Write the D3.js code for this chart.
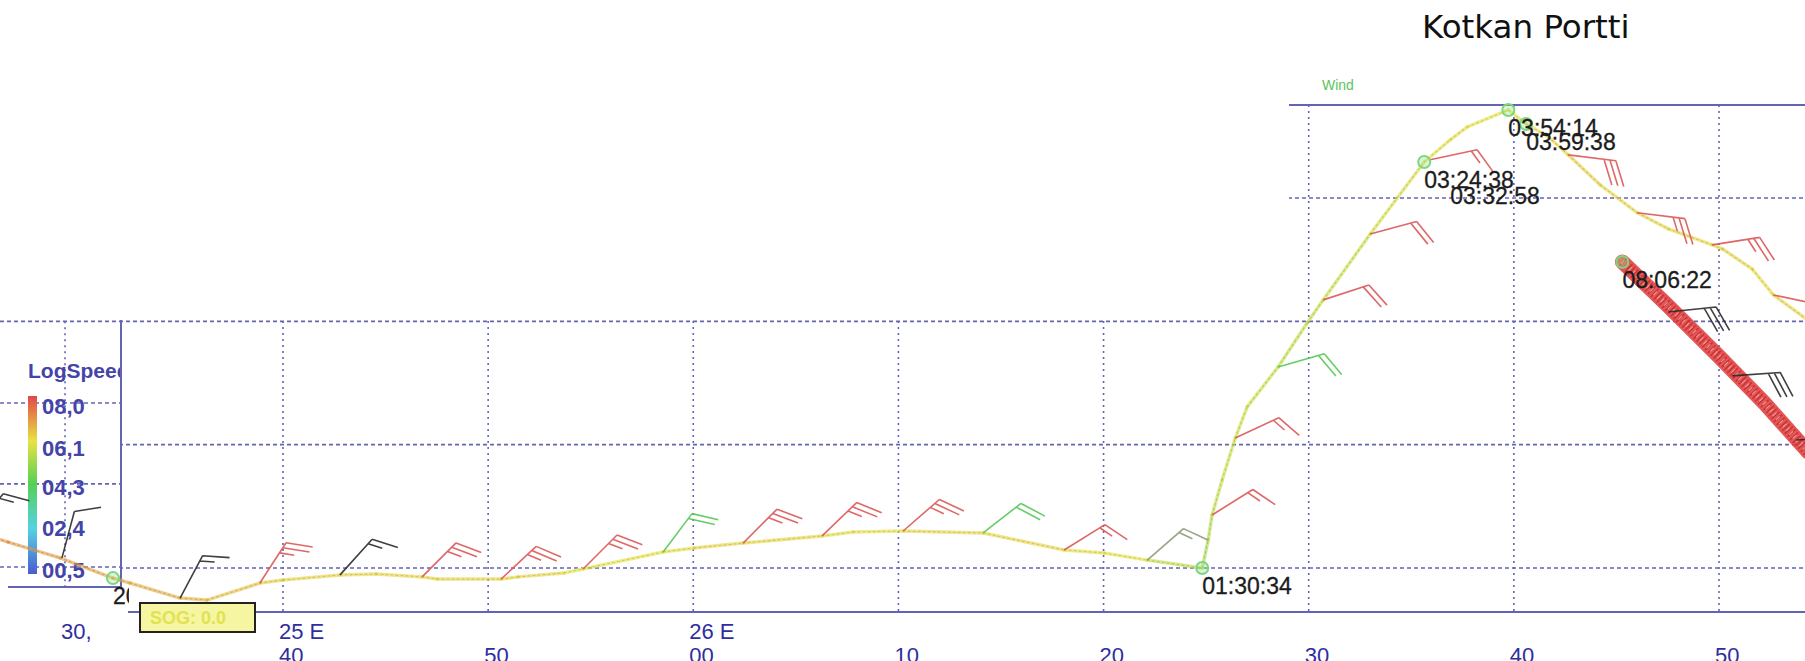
<!DOCTYPE html>
<html>
<head>
<meta charset="utf-8">
<script src="https://cdn.jsdelivr.net/npm/d3@7"></script>
<style>
  body { margin: 0; background: #fff; }
  svg { display: block; }
</style>
</head>
<body>
<script>
const W = 1805, H = 661;

// longitude grid, minutes east (40 = 25°40', 60 = 26°00')
const lonTicks = [30, 40, 50, 60, 70, 80, 90, 100, 110];
const lonLabelTop = ["30,", "25 E", "", "26 E", "", "", "", "", ""];
const lonLabelBottom = ["", "40", "50", "00", "10", "20", "30", "40", "50"];
// latitude grid, minutes
const latTicks = [20, 25, 30, 35];

// own track: lon/lat minutes and speed over ground (kn)
const trackLon = [25.78, 27.39, 29.77, 32.20, 32.98, 35.28, 36.51, 38.94,
  40.00, 42.78, 44.53, 46.78, 47.51, 50.63, 51.46, 53.70, 54.63, 58.53,
  60.04, 62.43, 66.28, 67.79, 70.23, 74.13, 78.08, 80.03, 82.13, 84.81,
  85.10, 85.29, 85.78, 86.42, 87.00, 88.51, 89.93, 90.71, 93.00, 95.63,
  96.90, 97.73, 99.73, 100.60, 101.68, 102.65, 104.21, 106.02, 107.53, 109.67,
  110.16, 111.62, 112.65, 114.45];
const trackLat = [21.50, 21.05, 20.41, 19.59, 19.39, 18.78, 18.70, 19.39,
  19.51, 19.72, 19.76, 19.64, 19.55, 19.55, 19.64, 19.80, 19.96, 20.65,
  20.81, 21.01, 21.30, 21.46, 21.50, 21.42, 20.73, 20.61, 20.32, 20.00,
  21.14, 22.15, 23.57, 25.27, 26.53, 28.15, 29.94, 30.87, 33.54, 36.46,
  37.36, 37.88, 38.57, 38.00, 37.48, 36.75, 35.53, 34.40, 33.75, 33.10,
  32.94, 32.12, 31.07, 29.98];
const trackSog = [7.0, 7.0, 6.9, 6.8, 6.8, 6.7, 6.6, 6.4,
  6.3, 6.2, 6.3, 6.2, 6.3, 6.2, 6.3, 6.2, 6.0, 6.1,
  6.2, 6.3, 6.2, 6.1, 6.2, 6.3, 6.2, 6.1, 6.0, 5.2,
  5.4, 5.6, 5.7, 5.8, 5.8, 5.7, 5.6, 5.7, 5.8, 6.0,
  6.1, 6.2, 6.0, 6.1, 6.2, 6.3, 6.3, 6.2, 6.3, 6.2,
  6.3, 6.2, 6.2, 6.3];

// return leg from 08:06:22
const returnLon = [105.29, 107.53, 109.97, 112.21, 114.35];
const returnLat = [32.41, 30.62, 28.60, 26.69, 24.70];

// wind observations: position, direction wind blows from (deg), speed (kn), source
const windLon = [25.78, 29.86, 35.28, 38.94, 42.78, 46.78, 50.63, 54.63, 58.53, 62.43,
  66.28, 70.23, 74.13, 78.08, 82.13, 85.29, 86.42, 88.51, 90.71, 93.00,
  95.92, 102.65, 106.02, 109.67, 112.65, 107.53, 110.65, 113.77];
const windLat = [21.50, 20.41, 18.78, 19.39, 19.72, 19.64, 19.55, 19.96, 20.65, 21.01,
  21.30, 21.50, 21.42, 20.73, 20.32, 22.15, 25.27, 28.15, 30.87, 33.54,
  36.55, 36.75, 34.40, 33.10, 31.07, 30.38, 27.79, 25.19];
const windDir = [39, 15, 28, 33, 42, 45, 47, 45, 37, 45,
  46, 49, 52, 58, 49, 58, 65, 74, 72, 75,
  78, 97, 97, 81, 102, 84, 86, 87];
const windKn = [15, 10, 15, 25, 15, 25, 25, 25, 20, 25,
  25, 25, 20, 15, 15, 15, 15, 20, 20, 20,
  15, 30, 25, 25, 25, 30, 30, 30];
const windSrc = [2, 2, 2, 0, 2, 0, 0, 0, 1, 0,
  0, 0, 1, 0, 3, 0, 0, 1, 0, 0,
  0, 0, 0, 0, 0, 2, 2, 2];

// time stamps on the track
const stampTime = ["20", "01:30:34", "03:24:38", "03:32:58", "03:54:14", "03:59:38", "08:06:22"];
const stampLon = [32.20, 84.81, 95.63, 96.90, 99.73, 100.60, 105.29];
const stampLat = [19.59, 20.00, 36.46, 37.36, 38.57, 38.00, 32.41];
const stampShift = {"03:32:58": 38};

// LogSpeed legend
const legendTicks = [0.5, 2.4, 4.3, 6.1, 8.0];
const legendColors = ["#4b5bd2", "#55d2e2", "#55d055", "#e8e244", "#e04848"];

const GRID = "#6464b4";
const AXIS_TXT = "#2e2ea0";
const STAFF = 48, FEATHER = 27, FEATHER_GAP = 6, FEATHER_ROT = 66;
const srcColor = ["#dc5656", "#55c655", "#2a2a2a", "#8d9a74"];

const x = d3.scaleLinear().domain([30, 40, 110]).range([65, 283, 1719]);
const y = d3.scaleLinear().domain([20, 35]).range([568, 198]);
const speedColor = d3.scaleLinear().domain(legendTicks).range(legendColors);

const svg = d3.select("body").append("svg")
  .attr("width", W).attr("height", H)
  .style("font-family", "'Liberation Sans', Arial, sans-serif");
const defs = svg.append("defs");

//grid, L-shaped area
const clip = defs.append("clipPath").attr("id", "grid-clip");
clip.append("rect").attr("x", 121).attr("y", 318).attr("width", W - 121).attr("height", 296);
clip.append("rect").attr("x", 1289).attr("y", 105).attr("width", W - 1289).attr("height", 215);

const grid = svg.append("g").attr("clip-path", "url(#grid-clip)");
grid.selectAll(".vgrid").data(lonTicks.slice(1)).join("line")
  .attr("x1", d => x(d)).attr("x2", d => x(d))
  .attr("y1", 105).attr("y2", 612)
  .attr("stroke", GRID).attr("stroke-width", 1.6).attr("stroke-dasharray", "2,4");
grid.selectAll(".hgrid").data(latTicks).join("line")
  .attr("x1", 0).attr("x2", W)
  .attr("y1", d => y(d)).attr("y2", d => y(d))
  .attr("stroke", GRID).attr("stroke-width", 1.6).attr("stroke-dasharray", "4,3");

//wind panel top
svg.append("line").attr("x1", 1289).attr("x2", W).attr("y1", 105).attr("y2", 105)
  .attr("stroke", GRID).attr("stroke-width", 2);
svg.append("text").attr("x", 1322).attr("y", 90).text("Wind")
  .attr("font-size", 14).attr("fill", "#5cc35c");

svg.append("text").attr("x", 1422).attr("y", 38).text("Kotkan Portti")
  .attr("font-family", "'DejaVu Sans', sans-serif").attr("font-size", 32.5).attr("fill", "#111");

//legend box
const ly = d3.scaleLinear().domain([0.5, 8.0]).range([570, 406]);
const lg = svg.append("g");
lg.append("line").attr("x1", 0).attr("x2", 121).attr("y1", y(30)).attr("y2", y(30))
  .attr("stroke", GRID).attr("stroke-width", 1.6).attr("stroke-dasharray", "4,3");
lg.append("line").attr("x1", x(30)).attr("x2", x(30)).attr("y1", y(30)).attr("y2", 587)
  .attr("stroke", GRID).attr("stroke-width", 1.6).attr("stroke-dasharray", "2,4");
lg.selectAll(".ltick").data(legendTicks.filter((d, i) => i % 2 === 0)).join("line")
  .attr("x1", 0).attr("x2", 121)
  .attr("y1", d => ly(d) - 3).attr("y2", d => ly(d) - 3)
  .attr("stroke", GRID).attr("stroke-width", 1.6).attr("stroke-dasharray", "4,3");

const grad = defs.append("linearGradient").attr("id", "speed-grad")
  .attr("x1", 0).attr("x2", 0).attr("y1", 1).attr("y2", 0);
legendTicks.forEach(v => {
  grad.append("stop").attr("offset", (v - 0.5) / 7.5).attr("stop-color", speedColor(v));
});
lg.append("rect").attr("x", 28).attr("y", 396).attr("width", 9).attr("height", 178)
  .attr("fill", "url(#speed-grad)");

lg.selectAll(".llab").data(legendTicks).join("text")
  .attr("x", 42).attr("y", d => ly(d) + 8)
  .text(d => d.toFixed(1).padStart(4, "0").replace(".", ","))
  .attr("font-size", 22).attr("font-weight", "bold").attr("fill", "#4444a8");

defs.append("clipPath").attr("id", "legend-clip")
  .append("rect").attr("x", 0).attr("y", 300).attr("width", 120).attr("height", 300);
lg.append("text").attr("x", 28).attr("y", 378).text("LogSpeed")
  .attr("clip-path", "url(#legend-clip)")
  .attr("font-size", 21).attr("font-weight", "bold").attr("fill", "#4444a8");

lg.append("path").attr("d", "M121,320V587H8")
  .attr("fill", "none").attr("stroke", GRID).attr("stroke-width", 2);

//bottom axis
svg.append("line").attr("x1", 128).attr("x2", W).attr("y1", 612).attr("y2", 612)
  .attr("stroke", GRID).attr("stroke-width", 2);
const ax = svg.append("g").attr("font-size", 22).attr("fill", AXIS_TXT);
ax.selectAll(".l1").data(lonTicks).join("text")
  .attr("x", d => x(d) - 4).attr("y", 639).text((d, i) => lonLabelTop[i]);
ax.selectAll(".l2").data(lonTicks).join("text")
  .attr("x", d => x(d) - 4).attr("y", 663).text((d, i) => lonLabelBottom[i]);

//own track, colored by SOG
const pts = trackLon.map((d, i) => [x(d), y(trackLat[i])]);
const tg = svg.append("g").attr("fill", "none").attr("stroke-linecap", "round");
for (let i = 0; i < pts.length - 1; i++) {
  const c = speedColor((trackSog[i] + trackSog[i + 1]) / 2);
  tg.append("line")
    .attr("x1", pts[i][0]).attr("y1", pts[i][1]).attr("x2", pts[i + 1][0]).attr("y2", pts[i + 1][1])
    .attr("stroke", c).attr("stroke-width", 3.5).attr("stroke-opacity", 0.6);
  tg.append("line")
    .attr("x1", pts[i][0]).attr("y1", pts[i][1]).attr("x2", pts[i + 1][0]).attr("y2", pts[i + 1][1])
    .attr("stroke", d3.color(c).darker(0.6)).attr("stroke-width", 1.2)
    .attr("stroke-opacity", 0.55).attr("stroke-dasharray", "2,3");
}

//return leg
const rline = d3.line().x((d, i) => x(d)).y((d, i) => y(returnLat[i]));
svg.append("path").attr("d", rline(returnLon))
  .attr("fill", "none").attr("stroke", "#e24242").attr("stroke-width", 15)
  .attr("stroke-linecap", "round").attr("stroke-opacity", 0.9);
svg.append("path").attr("d", rline(returnLon))
  .attr("fill", "none").attr("stroke", "#a81c1c").attr("stroke-width", 11)
  .attr("stroke-dasharray", "1.5,2.5").attr("stroke-opacity", 0.55);
svg.append("path").attr("d", rline(returnLon))
  .attr("fill", "none").attr("stroke", "#ffb4b4").attr("stroke-width", 5)
  .attr("stroke-dasharray", "1,4").attr("stroke-opacity", 0.8);

//wind barbs
const barb = (px, py, dir, kn) => {
  const rad = Math.PI / 180;
  const a = (90 - dir) * rad, fa = (90 - dir - FEATHER_ROT) * rad;
  const sx = Math.cos(a), sy = -Math.sin(a);
  const fx = Math.cos(fa), fy = -Math.sin(fa);
  const tx = px + sx * STAFF, ty = py + sy * STAFF;
  const p = d3.path();
  p.moveTo(px, py); p.lineTo(tx, ty);
  const full = Math.floor(kn / 10), half = kn % 10 >= 5;
  let off = 0;
  for (let k = 0; k < full; k++) {
    const bx = tx - sx * off, by = ty - sy * off;
    p.moveTo(bx, by); p.lineTo(bx + fx * FEATHER, by + fy * FEATHER);
    off += FEATHER_GAP;
  }
  if (half) {
    const bx = tx - sx * off, by = ty - sy * off;
    p.moveTo(bx, by); p.lineTo(bx + fx * FEATHER * 0.55, by + fy * FEATHER * 0.55);
  }
  return p.toString();
};
svg.append("g").selectAll("path").data(windLon).join("path")
  .attr("d", (d, i) => barb(x(d), y(windLat[i]), windDir[i], windKn[i]))
  .attr("fill", "none").attr("stroke", (d, i) => srcColor[windSrc[i]])
  .attr("stroke-width", 1.6).attr("stroke-opacity", 0.9);

//time stamps
svg.append("g").selectAll("circle").data(stampTime.filter(d => !stampShift[d])).join("circle")
  .attr("cx", d => x(stampLon[stampTime.indexOf(d)]))
  .attr("cy", d => y(stampLat[stampTime.indexOf(d)])).attr("r", 6)
  .attr("fill", "rgba(150,230,150,0.35)").attr("stroke", "#7fd67f").attr("stroke-width", 2);

defs.append("clipPath").attr("id", "first-stamp-clip")
  .append("rect").attr("x", 0).attr("y", 0).attr("width", 129).attr("height", H);
svg.append("g").selectAll("text").data(stampTime).join("text")
  .attr("x", (d, i) => x(stampLon[i]))
  .attr("y", (d, i) => y(stampLat[i]) + 26 + (stampShift[d] || 0))
  .attr("clip-path", (d, i) => i === 0 ? "url(#first-stamp-clip)" : null)
  .text(d => d)
  .attr("font-size", 23).attr("fill", "#1c1c1c")
  .attr("stroke", "#1c1c1c").attr("stroke-width", 0.3);

//SOG readout
svg.append("rect").attr("x", 140).attr("y", 603).attr("width", 115).attr("height", 29)
  .attr("fill", "#f6f6a2").attr("stroke", "#222").attr("stroke-width", 2);
svg.append("text").attr("x", 150).attr("y", 624).text("SOG: 0.0")
  .attr("font-size", 18).attr("font-weight", "bold").attr("fill", "#e2e250");
</script>
</body>
</html>
